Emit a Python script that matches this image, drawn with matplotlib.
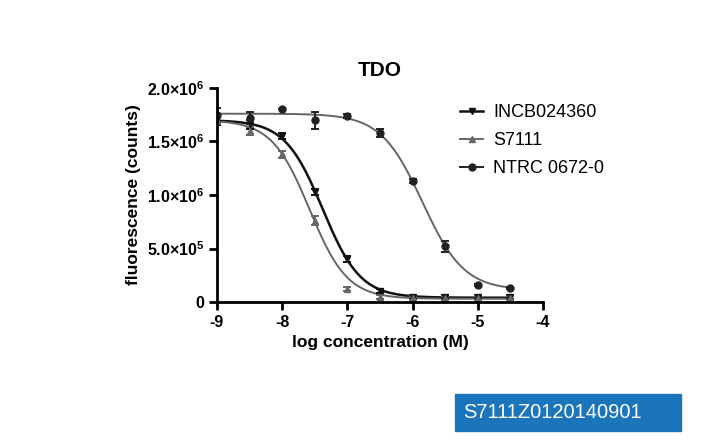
import numpy as np
import matplotlib.pyplot as plt
from matplotlib.ticker import FuncFormatter

plt.rcParams['font.family'] = ['Liberation Sans', 'DejaVu Sans']
plt.rcParams['mathtext.fontset'] = 'custom'
plt.rcParams['mathtext.rm'] = 'Liberation Sans'
plt.rcParams['mathtext.bf'] = 'Liberation Sans:bold'

log_conc = [-9, -8.5, -8, -7.5, -7, -6.5, -6, -5.5, -5, -4.5]

incb = [1.70e6, 1.66e6, 1.55e6, 1.03e6, 0.40e6, 0.10e6, 0.05e6, 0.05e6, 0.05e6, 0.05e6]
incb_err = [0.05e6, 0.04e6, 0.03e6, 0.03e6, 0.03e6, 0.02e6, 0.02e6, 0.02e6, 0.02e6, 0.02e6]

s7111 = [1.70e6, 1.60e6, 1.38e6, 0.76e6, 0.12e6, 0.05e6, 0.04e6, 0.04e6, 0.04e6, 0.04e6]
s7111_err = [0.04e6, 0.04e6, 0.03e6, 0.04e6, 0.02e6, 0.02e6, 0.02e6, 0.02e6, 0.02e6, 0.02e6]

ntrc = [1.75e6, 1.72e6, 1.80e6, 1.70e6, 1.74e6, 1.58e6, 1.13e6, 0.52e6, 0.16e6, 0.13e6]
ntrc_err = [0.06e6, 0.06e6, 0.0, 0.08e6, 0.02e6, 0.04e6, 0.02e6, 0.05e6, 0.01e6, 0.01e6]

# fitted 4PL parameters: top, bottom, logIC50, hill
incb_fit = (1.70e6, 0.04e6, -7.38, 1.5)
s7111_fit = (1.70e6, 0.03e6, -7.58, 1.5)
ntrc_fit = (1.76e6, 0.11e6, -5.85, 1.36)


def four_pl(x, top, bottom, c, h):
    return bottom + (top - bottom) / (1 + 10 ** (h * (x - c)))


fig = plt.figure(figsize=(7.01, 4.48), dpi=100)

ax = fig.add_axes([217 / 701, 1 - 302 / 448, 326 / 701, 214 / 448])

xs = np.linspace(-9, -4.5, 300)
ax.plot(xs, four_pl(xs, *incb_fit), color='#111111', lw=1.8)
ax.plot(xs, four_pl(xs, *s7111_fit), color='#666666', lw=1.4)
ax.plot(xs, four_pl(xs, *ntrc_fit), color='#666666', lw=1.4)

ax.errorbar(log_conc, incb, yerr=incb_err, fmt='v', ms=5, color='#111111', capsize=3, elinewidth=1.4, capthick=1.4)
ax.errorbar(log_conc, s7111, yerr=s7111_err, fmt='^', ms=5, color='#666666', capsize=3, elinewidth=1.4, capthick=1.4)
ax.errorbar(log_conc, ntrc, yerr=ntrc_err, fmt='o', ms=5, color='#222222', capsize=3, elinewidth=1.4, capthick=1.4)

ax.plot([], [], marker='v', color='#111111', ms=5, lw=1.8, label='INCB024360')
ax.plot([], [], marker='^', color='#666666', ms=5, lw=1.4, label='S7111')
ax.plot([], [], marker='o', color='#222222', ms=5, lw=1.4, label='NTRC 0672-0')
ax.legend(loc='upper left', bbox_to_anchor=(0.695, 1.0), frameon=False, fontsize=13,
          handlelength=1.3, labelspacing=0.6, handletextpad=0.55)

ax.set_xlim(-9, -4)
ax.set_ylim(0, 2.0e6)
ax.set_xticks([-9, -8, -7, -6, -5, -4])
ax.set_yticks([0, 0.5e6, 1.0e6, 1.5e6, 2.0e6])


def fmt_y(v, pos):
    if v == 0:
        return '0'
    exp = int(np.floor(np.log10(v)))
    return r'$\mathbf{%.1f}$' % (v / 10 ** exp) + r'$\mathbf{\times}$' + r'$\mathbf{10^{%d}}$' % exp


ax.yaxis.set_major_formatter(FuncFormatter(fmt_y))
ax.xaxis.set_major_formatter(FuncFormatter(lambda v, p: '%d' % v))
for s in ['top', 'right']:
    ax.spines[s].set_visible(False)
for s in ['left', 'bottom']:
    ax.spines[s].set_linewidth(2.0)
ax.tick_params(width=2.0, length=6, labelsize=11.5, pad=3)
for lab in ax.get_xticklabels() + ax.get_yticklabels():
    lab.set_fontweight('bold')

ax.set_title('TDO', fontsize=15, fontweight='bold', pad=9)
ax.set_xlabel('log concentration (M)', fontsize=12.5, fontweight='bold', labelpad=4)
ax.set_ylabel('fluorescence (counts)', fontsize=12.5, fontweight='bold', labelpad=4)

fig.patches.append(plt.Rectangle((455 / 701, 1 - 431 / 448), 226 / 701, 37 / 448,
                                 transform=fig.transFigure, color='#1b75bb', zorder=1))
fig.text(463 / 701, 1 - 412 / 448, 'S7111Z0120140901', color='white', fontsize=14.5,
         va='center', ha='left', zorder=2)

fig.savefig('out.png', dpi=100)
